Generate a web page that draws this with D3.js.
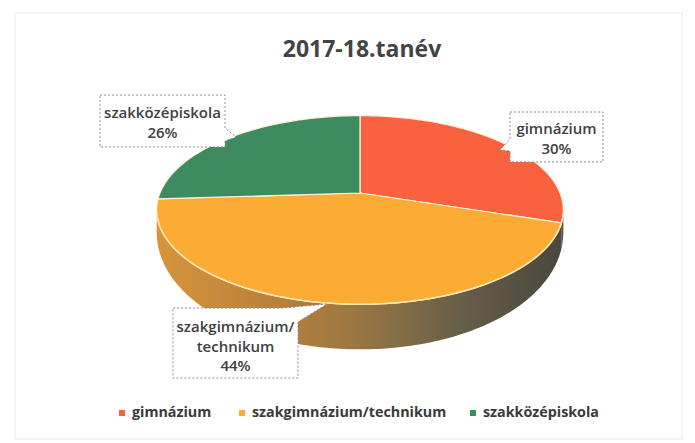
<!DOCTYPE html>
<html>
<head>
<meta charset="utf-8">
<script src="https://cdn.jsdelivr.net/npm/d3@7"></script>
<style>
body { margin: 0; background: #fff; }
text { font-family: "Open Sans", sans-serif; }
</style>
</head>
<body>
<svg id="chart" width="695" height="443"></svg>
<script>
// Data
var title = "2017-18.tanév";
var categories = ["gimnázium", "szakgimnázium/technikum", "szakközépiskola"];
var values = [30, 44, 26];
var labelLines = [["gimnázium", "30%"], ["szakgimnázium/", "technikum", "44%"], ["szakközépiskola", "26%"]];
var colors = ["#f9613f", "#fcab35", "#3f8b60"];
var sideColors = ["#5c4a40", "url(#sideGrad)", "#2f6a48"];

// 3d look
var cx = 360, cy = 193, rx = 200, ry = 91.3, k = 0.18;
var deg = Math.PI / 180;
var thetaR = Math.acos(-k);
var thetaL = 2 * Math.PI - thetaR;

var svg = d3.select("#chart");

svg.append("rect")
.attr("x", 15).attr("y", 13).attr("width", 667).attr("height", 426)
.attr("fill", "none").attr("stroke", "#ececec")

var defs = svg.append("defs");
var grad = defs.append("linearGradient")
.attr("id", "sideGrad")
.attr("gradientUnits", "userSpaceOnUse")
.attr("x1", 157).attr("x2", 562).attr("y1", 0).attr("y2", 0)
var stops = [[0, "#d8933c"], [0.3, "#b8803c"], [0.5, "#987643"], [0.75, "#665e48"], [1, "#4a473d"]];
stops.forEach(function(s) {
    grad.append("stop").attr("offset", s[0]).attr("stop-color", s[1]);
});

function proj(theta) {
    var u = Math.sin(theta), v = -Math.cos(theta);
    var f = 1 / (1 - k * v);
    return [cx + rx * u * f, cy + ry * v * f];
}

function thick(theta) {
    var v = -Math.cos(theta);
    return 17 + 28 * v;
}

function arcPoints(a0, a1) {
    var pts = [];
    var n = Math.max(2, Math.ceil((a1 - a0) / deg));
    for (var i = 0; i <= n; i++) {
        pts.push(a0 + (a1 - a0) * i / n);
    }
    return pts;
}

var pie = d3.pie().sort(null).value(function(d) { return d; });
var arcs = pie(values);
var line = d3.line();

// sides
arcs.forEach(function(d, i) {
    var s0 = Math.max(d.startAngle, thetaR), s1 = Math.min(d.endAngle, thetaL);
    if (s1 <= s0) return;
    var top = arcPoints(s0, s1).map(proj);
    var bottom = arcPoints(s0, s1).reverse().map(function(t) {
        var p = proj(t);
        return [p[0], p[1] + thick(t)];
    });
    svg.append("path")
    .attr("d", line(top.concat(bottom)) + "Z")
    .attr("fill", sideColors[i])
})

// top faces
arcs.forEach(function(d, i) {
    var pts = [[cx, cy]].concat(arcPoints(d.startAngle, d.endAngle).map(proj));
    svg.append("path")
    .attr("d", line(pts) + "Z")
    .attr("fill", colors[i])
    .attr("stroke", "#fff3dc")
    .attr("stroke-width", 1.2)
    .attr("stroke-linejoin", "round")
})

// edge highlight
svg.append("path")
.attr("d", line(arcPoints(thetaR + 2 * deg, thetaL - 4 * deg).map(proj)))
.attr("fill", "none")
.attr("stroke", "#fde7ad")
.attr("stroke-width", 1.5)

// title
svg.append("text")
.attr("x", 362).attr("y", 57)
.attr("text-anchor", "middle")
.attr("font-size", 23)
.attr("font-weight", 700)
.attr("fill", "#444")
.text(title)

// callouts
var boxes = [
    {pts: [[510,112],[603,112],[603,162],[510,162],[510,151],[500,150],[510,139]], x: 556.5, y: 134},
    {pts: [[173,308],[283,308],[327,304],[298,322],[298,378],[173,378]], x: 235.5, y: 332},
    {pts: [[100,95],[225,95],[225,128],[236,137],[225,141],[225,147],[100,147]], x: 162.5, y: 118}
];
boxes.forEach(function(b, i) {
    svg.append("path")
    .attr("d", line(b.pts) + "Z")
    .attr("fill", "#fff")
    .attr("stroke", "#8c8c8c")
    .attr("stroke-width", 1)
    .attr("stroke-dasharray", "2,2")
    var t = svg.append("text")
    .attr("text-anchor", "middle")
    .attr("font-size", 15)
    .attr("font-weight", 600)
    .attr("fill", "#404040")
    labelLines[i].forEach(function(l, j) {
        t.append("tspan").attr("x", b.x).attr("y", b.y + j * 19.5).text(l);
    })
})

// legend
var legendX = [132, 252, 483];
var legend = svg.selectAll(".legend")
.data(categories)
.enter()
.append("g")
.attr("class", "legend")
.attr("transform", function(d, i) { return "translate(" + legendX[i] + ",417)"; })
legend.append("rect")
.attr("x", -13).attr("y", -7).attr("width", 6).attr("height", 6)
.attr("fill", function(d, i) { return colors[i]; })
legend.append("text")
.attr("font-size", 14.3)
.attr("font-weight", 700)
.attr("fill", "#3a3a3a")
.text(function(d) { return d; })
</script>
</body>
</html>
